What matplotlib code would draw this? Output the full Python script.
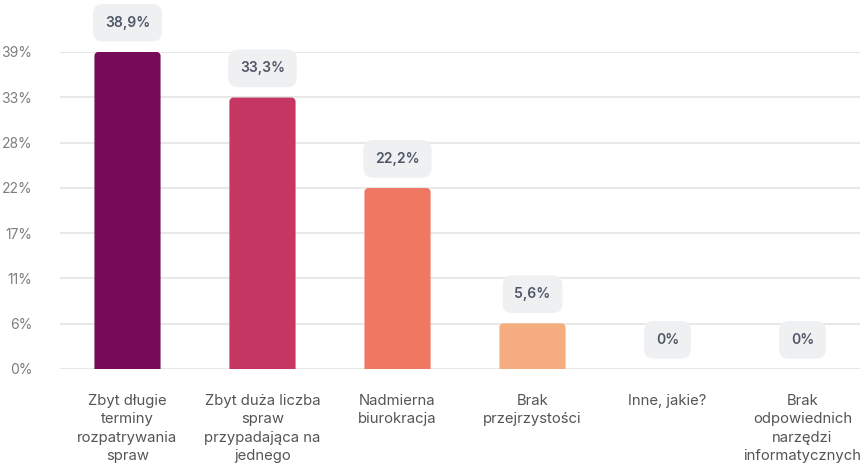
import matplotlib
matplotlib.use("Agg")
import matplotlib.pyplot as plt
from matplotlib.patches import Polygon
import numpy as np

categories = [
    "Zbyt długie\nterminy\nrozpatrywania\nspraw",
    "Zbyt duża liczba\nspraw\nprzypadająca na\njednego",
    "Nadmierna\nbiurokracja",
    "Brak\nprzejrzystości",
    "Inne, jakie?",
    "Brak\nodpowiednich\nnarzędzi\ninformatycznych",
]
values = [38.9, 33.3, 22.2, 5.6, 0.0, 0.0]
value_labels = ["38,9%", "33,3%", "22,2%", "5,6%", "0%", "0%"]
colors = ["#780a5a", "#c53762", "#f07863", "#f5ac7f", "#f5ac7f", "#f5ac7f"]
tick_values = [0, 5.556, 11.111, 16.667, 22.222, 27.778, 33.333, 38.889]
tick_labels = ["0%", "6%", "11%", "17%", "22%", "28%", "33%", "39%"]

plt.rcParams["font.family"] = ["Inter", "DejaVu Sans"]

fig = plt.figure(figsize=(8.6, 4.7), dpi=100)
ax_w_px, ax_h_px = 810, 317
ax = fig.add_axes([60 / 860, 1 - 369 / 470, ax_w_px / 860, ax_h_px / 470])

n = len(categories)
x = np.arange(n)
bar_w = 0.49
ymax = 38.889
ax.set_xlim(-0.5, n - 0.5)
ax.set_ylim(0, ymax)

# bars with rounded top corners (radius given in pixels)
rx = 4 * n / ax_w_px
ry = 4 * ymax / ax_h_px
theta = np.linspace(0, np.pi / 2, 10)


def rounded_top_bar(xc, h):
    left, right = xc - bar_w / 2, xc + bar_w / 2
    r_y = min(ry, h)
    pts = [(left, 0), (right, 0)]
    # top-right corner
    for t in theta:
        pts.append((right - rx + rx * np.cos(t), h - r_y + r_y * np.sin(t)))
    # top-left corner
    for t in theta:
        pts.append((left + rx - rx * np.sin(t), h - r_y + r_y * np.cos(t)))
    return pts


for xi, v, c in zip(x, values, colors):
    if v <= 0:
        continue
    ax.add_patch(Polygon(rounded_top_bar(xi, v), closed=True, fc=c, ec="none",
                         zorder=3))

ax.set_yticks(tick_values)
ax.set_yticklabels(tick_labels, color="#7d7d7d", fontsize=10)
ax.tick_params(axis="y", length=0, pad=20)
ax.set_xticks(x)
ax.set_xticklabels(categories, color="#555555", fontsize=10.7, linespacing=1.4,
                   va="top")
ax.tick_params(axis="x", length=0, pad=18)
ax.grid(axis="y", color="#e8e8e8", linewidth=1.5, zorder=0)
ax.set_axisbelow(True)
for s in ax.spines.values():
    s.set_visible(False)

for xi, v, lab in zip(x, values, value_labels):
    ax.annotate(lab, (xi, v), xytext=(0, 21), textcoords="offset points",
                ha="center", va="center", fontsize=10, fontweight="semibold",
                color="#4f5665", annotation_clip=False,
                bbox=dict(boxstyle="round,pad=0.85,rounding_size=0.7",
                          fc="#eff0f2", ec="none"))

fig.savefig("out.png", dpi=100)
